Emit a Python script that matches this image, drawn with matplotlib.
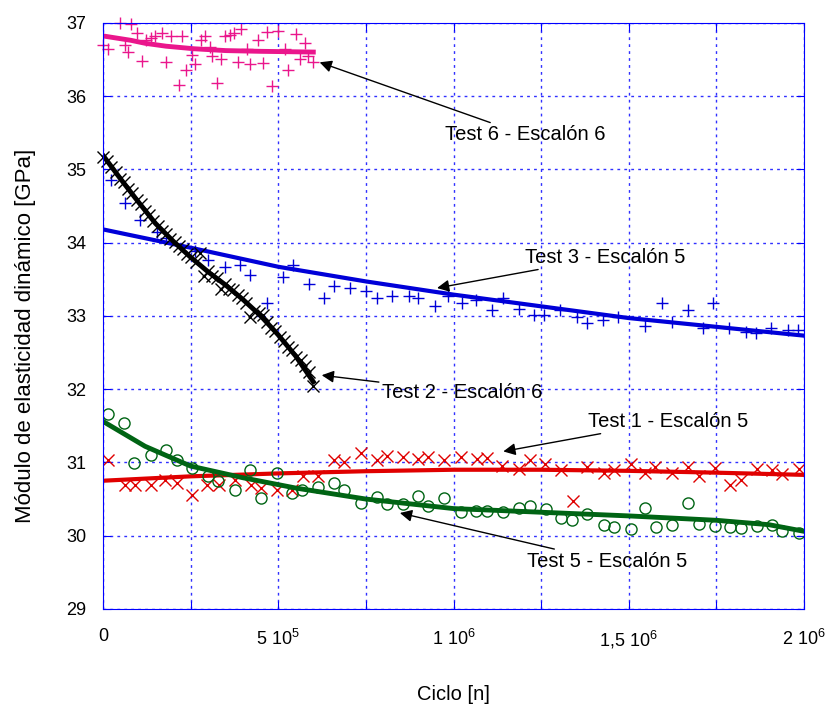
import numpy as np
import matplotlib.pyplot as plt
from matplotlib.ticker import MultipleLocator, FuncFormatter

plt.rcParams["font.family"] = ["Liberation Sans", "DejaVu Sans"]
plt.rcParams["mathtext.fontset"] = "custom"
plt.rcParams["mathtext.rm"] = "Liberation Sans"
plt.rcParams["mathtext.it"] = "Liberation Sans"

# Test 6 - Escalon 6 (pink +)
t6_x = [0, 15, 48, 62, 72, 81, 96, 110, 124, 138, 148, 167, 181, 195, 216, 226, 238,
        253, 262, 279, 291, 305, 311, 324, 336, 348, 362, 374, 386, 395, 412, 419,
        443, 457, 468, 481, 500, 519, 528, 552, 562, 576, 585, 600]
t6_y = [36.70, 36.64, 36.99, 36.70, 36.60, 36.98, 36.86, 36.48, 36.77, 36.79, 36.82,
        36.86, 36.46, 36.82, 36.15, 36.82, 36.36, 36.56, 36.44, 36.77, 36.82, 36.67,
        36.54, 36.18, 36.50, 36.82, 36.83, 36.86, 36.47, 36.91, 36.64, 36.44, 36.76,
        36.45, 36.88, 36.14, 36.89, 36.64, 36.36, 36.85, 36.51, 36.73, 36.54, 36.47]
t6_fit_x = [0, 40, 80, 120, 180, 260, 350, 450, 600]
t6_fit_y = [36.82, 36.79, 36.76, 36.72, 36.68, 36.645, 36.62, 36.61, 36.60]

# Test 2 - Escalon 6 (black x)
t2_x = [0, 12, 24, 36, 48, 60, 72, 84, 96, 108, 120, 132, 144, 156, 168, 180, 192,
        204, 216, 228, 240, 252, 264, 276, 288, 300, 312, 324, 336, 348, 360, 372,
        384, 396, 408, 420, 432, 444, 456, 468, 480, 492, 504, 516, 528, 540, 552,
        564, 576, 588, 600]
t2_y = [35.17, 35.12, 35.03, 34.97, 34.87, 34.82, 34.73, 34.67, 34.58, 34.52, 34.43,
        34.38, 34.29, 34.23, 34.16, 34.12, 34.05, 34.01, 33.95, 33.91, 33.84, 33.80,
        33.73, 33.86, 33.55, 33.61, 33.55, 33.52, 33.36, 33.44, 33.37, 33.35, 33.28,
        33.25, 33.18, 32.99, 33.07, 33.04, 33.01, 32.92, 32.84, 32.79, 32.71, 32.66,
        32.58, 32.53, 32.44, 32.40, 32.31, 32.24, 32.04]
t2_fit_x = [0, 50, 100, 150, 200, 250, 300, 350, 400, 450, 500, 550, 600]
t2_fit_y = [35.19, 34.87, 34.56, 34.26, 34.02, 33.80, 33.60, 33.42, 33.22, 33.00,
            32.74, 32.45, 32.10]

# Test 3 - Escalon 5 (blue +)
t3_x = [24, 62, 105, 153, 181, 262, 300, 348, 390, 419, 467, 514, 541, 587, 630,
        659, 705, 751, 783, 825, 872, 899, 947, 985, 1024, 1065, 1111, 1140, 1186,
        1229, 1258, 1304, 1353, 1382, 1427, 1470, 1546, 1594, 1623, 1668, 1712, 1741,
        1787, 1835, 1862, 1905, 1953, 1982]
t3_y = [34.85, 34.54, 34.31, 34.15, 34.06, 33.88, 33.76, 33.67, 33.69, 33.56, 33.17,
        33.53, 33.70, 33.44, 33.24, 33.41, 33.38, 33.34, 33.24, 33.27, 33.27, 33.25,
        33.14, 33.27, 33.18, 33.22, 33.08, 33.24, 33.10, 33.01, 33.01, 33.08, 32.99,
        32.90, 32.94, 32.98, 32.86, 33.17, 32.92, 33.08, 32.84, 33.18, 32.84, 32.78,
        32.76, 32.84, 32.81, 32.81]
t3_fit_x = [0, 250, 500, 750, 1000, 1250, 1500, 1750, 2000]
t3_fit_y = [34.18, 33.93, 33.67, 33.47, 33.29, 33.13, 32.97, 32.85, 32.73]

# Test 1 - Escalon 5 (red x)
t1_x = [15, 62, 91, 136, 178, 210, 254, 298, 330, 376, 422, 452, 495, 538, 571, 614,
        660, 688, 736, 781, 809, 857, 898, 928, 974, 1021, 1067, 1095, 1138, 1186,
        1218, 1260, 1308, 1340, 1381, 1429, 1457, 1505, 1547, 1576, 1622, 1670, 1699,
        1745, 1790, 1821, 1866, 1909, 1938, 1986]
t1_y = [31.03, 30.69, 30.69, 30.69, 30.76, 30.72, 30.56, 30.69, 30.69, 30.76, 30.69,
        30.65, 30.63, 30.63, 30.81, 30.81, 31.03, 31.00, 31.13, 31.03, 31.09, 31.07,
        31.04, 31.07, 31.03, 31.08, 31.04, 31.06, 30.95, 30.91, 31.03, 30.98, 30.89,
        30.47, 30.94, 30.86, 30.89, 30.98, 30.86, 30.94, 30.86, 30.94, 30.82, 30.93,
        30.69, 30.76, 30.91, 30.90, 30.84, 30.91]
t1_fit_x = [0, 250, 500, 750, 1000, 1250, 1500, 1750, 2000]
t1_fit_y = [30.75, 30.81, 30.85, 30.88, 30.90, 30.90, 30.885, 30.86, 30.83]

# Test 5 - Escalon 5 (green o)
t5_x = [15, 60, 89, 136, 181, 210, 254, 300, 328, 376, 419, 450, 495, 540, 568, 614,
        660, 688, 736, 781, 809, 857, 898, 928, 974, 1021, 1065, 1095, 1141, 1186,
        1218, 1263, 1306, 1337, 1381, 1429, 1457, 1505, 1547, 1579, 1622, 1668, 1699,
        1745, 1790, 1821, 1866, 1909, 1938, 1986]
t5_y = [31.66, 31.54, 30.99, 31.10, 31.17, 31.03, 30.93, 30.81, 30.75, 30.62, 30.90,
        30.52, 30.85, 30.58, 30.63, 30.66, 30.72, 30.62, 30.45, 30.53, 30.43, 30.43,
        30.54, 30.41, 30.51, 30.32, 30.34, 30.34, 30.32, 30.38, 30.40, 30.36, 30.24,
        30.22, 30.30, 30.15, 30.12, 30.09, 30.38, 30.12, 30.15, 30.45, 30.16, 30.13,
        30.12, 30.10, 30.13, 30.15, 30.06, 30.03]
t5_fit_x = [0, 120, 250, 400, 550, 750, 1000, 1250, 1500, 1750, 1900, 2000]
t5_fit_y = [31.56, 31.22, 30.95, 30.79, 30.65, 30.50, 30.37, 30.32, 30.27, 30.21,
            30.15, 30.06]


def k(v):
    return np.array(v) * 1e3


fig = plt.figure(figsize=(8.26, 7.11), dpi=100)
ax = fig.add_axes([0.1247, 0.1435, 0.8487, 0.8245])

pink = "#ea168c"
blue = "#0000d8"
red = "#e00000"
green = "#006414"

ax.plot(k(t6_x), t6_y, "+", color=pink, ms=9, mew=1, clip_on=False)
ax.plot(k(t6_fit_x), t6_fit_y, "-", color=pink, lw=3.5)

ax.plot(k(t3_x), t3_y, "+", color=blue, ms=9, mew=1)
ax.plot(k(t3_fit_x), t3_fit_y, "-", color=blue, lw=3)

ax.plot(k(t2_x), t2_y, "x", color="black", ms=8, mew=1, clip_on=False)
ax.plot(k(t2_fit_x), t2_fit_y, "-", color="black", lw=3.5)

ax.plot(k(t1_x), t1_y, "x", color=red, ms=8, mew=1)
ax.plot(k(t1_fit_x), t1_fit_y, "-", color=red, lw=3)

ax.plot(k(t5_x), t5_y, "o", mfc="none", mec=green, ms=8, mew=1)
ax.plot(k(t5_fit_x), t5_fit_y, "-", color=green, lw=3.5)

ax.set_xlim(0, 2e6)
ax.set_ylim(29, 37)
ax.xaxis.set_major_locator(MultipleLocator(2.5e5))
ax.yaxis.set_major_locator(MultipleLocator(1))

labels = {0: "0", 5: "5 10$^{5}$", 10: "1 10$^{6}$", 15: "1,5 10$^{6}$", 20: "2 10$^{6}$"}


def fmt(v, pos):
    return labels.get(int(round(v / 1e5)), "")


ax.xaxis.set_major_formatter(FuncFormatter(fmt))
ax.grid(True, color="#3030ff", linestyle=(0, (2, 3)), lw=1)
for s in ax.spines.values():
    s.set_color("#0000ff")
ax.tick_params(direction="in", colors="#0000ff", length=6, top=True, right=True,
               labelcolor="black", labelsize=13)
ax.tick_params(axis="x", pad=14)
ax.tick_params(axis="y", pad=12)

ax.set_xlabel("Ciclo [n]", fontsize=14.5, labelpad=25)
ax.set_ylabel("Módulo de elasticidad dinámico [GPa]", fontsize=16)
ax.yaxis.set_label_coords(-0.095, 0.466)

arrow = dict(arrowstyle="-|>", color="black", lw=1, mutation_scale=18,
             shrinkA=0, shrinkB=0)

ax.annotate("Test 6 - Escalón 6", xy=(6.18e5, 36.46), xytext=(9.75e5, 35.47),
            fontsize=14.5, va="center", arrowprops=arrow)
ax.annotate("Test 3 - Escalón 5", xy=(9.53e5, 33.38), xytext=(1.204e6, 33.80),
            fontsize=14.5, va="center", arrowprops=arrow)
ax.annotate("Test 2 - Escalón 6", xy=(6.24e5, 32.19), xytext=(7.95e5, 31.96),
            fontsize=14.5, va="center", arrowprops=arrow)
ax.annotate("Test 1 - Escalón 5", xy=(1.142e6, 31.15), xytext=(1.383e6, 31.56),
            fontsize=14.5, va="center", arrowprops=arrow)
ax.annotate("Test 5 - Escalón 5", xy=(8.47e5, 30.31), xytext=(1.209e6, 29.65),
            fontsize=14.5, va="center", arrowprops=arrow)

fig.savefig("out.png", dpi=100)
